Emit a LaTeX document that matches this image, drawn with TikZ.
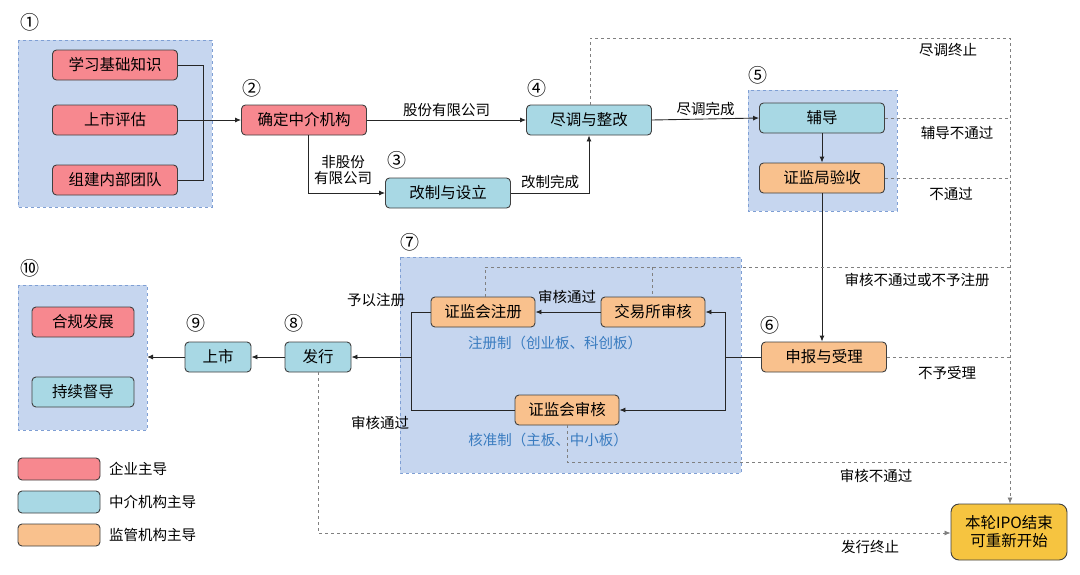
\documentclass[tikz,border=0pt]{standalone}
\usepackage{fontspec}
\setmainfont{Noto Sans CJK SC}
\usetikzlibrary{arrows.meta}
\definecolor{cred}{HTML}{F7888F}
\definecolor{cblue}{HTML}{A8D8E4}
\definecolor{corg}{HTML}{F9C18D}
\definecolor{cgrp}{HTML}{C6D6EF}
\definecolor{cgb}{HTML}{7F9FD4}
\definecolor{cyel}{HTML}{F6C440}
\definecolor{ctxt}{HTML}{3A7CC0}
\begin{document}
\begin{tikzpicture}[x=1pt,y=-1pt,font=\fontsize{15.5}{17}\selectfont,
 bx/.style={draw=black!75,line width=0.9pt,rounded corners=4pt,minimum height=30pt,inner sep=1pt},
 rbx/.style={bx,fill=cred,minimum width=125pt},
 bbx/.style={bx,fill=cblue,minimum width=125pt},
 obx/.style={bx,fill=corg,minimum width=125pt},
 grp/.style={draw=cgb,dashed,fill=cgrp,line width=0.6pt},
 ln/.style={draw=black!85,line width=0.9pt},
 ar/.style={ln,-{Latex[length=6pt,width=5pt]}},
 dl/.style={draw=gray,dashed,line width=0.8pt},
 lb/.style={inner sep=1pt,font=\fontsize{14.5}{16.5}\selectfont},
 num/.style={inner sep=0pt,font=\fontsize{19}{20}\selectfont}]
\useasboundingbox (0,0) rectangle (1080,574);
\fill[white] (0,0) rectangle (1080,574);
% groups
\path[grp] (18,40) rectangle (212,207);
\path[grp] (748,90) rectangle (897,211);
\path[grp] (400,257) rectangle (741,473);
\path[grp] (18,285) rectangle (147,430);
% circled numbers
\node[num] at (30,22) {①};
\node[num] at (252,88) {②};
\node[num] at (397,160) {③};
\node[num] at (537,88) {④};
\node[num] at (758,75) {⑤};
\node[num] at (770,325) {⑥};
\node[num] at (410,242) {⑦};
\node[num] at (294,323) {⑧};
\node[num] at (196,323) {⑨};
\node[num] at (30,268) {⑩};
% nodes
\node[rbx] (n1) at (115,65) {学习基础知识};
\node[rbx] (n2) at (115,120) {上市评估};
\node[rbx] (n3) at (115,180) {组建内部团队};
\node[rbx] (zj) at (304,120) {确定中介机构};
\node[bbx] (gz) at (448,193) {改制与设立};
\node[bbx] (jd) at (589,120) {尽调与整改};
\node[bbx] (fd) at (822,118) {辅导};
\node[obx] (ys) at (822,178) {证监局验收};
\node[obx] (sb) at (824,357) {申报与受理};
\node[obx,minimum width=104pt] (jy) at (653,312) {交易所审核};
\node[obx,minimum width=104pt] (zc) at (483,312) {证监会注册};
\node[obx,minimum width=104pt] (sh) at (567,410) {证监会审核};
\node[bbx,minimum width=66pt] (fx) at (318,357) {发行};
\node[bbx,minimum width=66pt] (ss) at (218,357) {上市};
\node[rbx,minimum width=102pt] (hg) at (83,322) {合规发展};
\node[bbx,minimum width=102pt] (cx) at (83,392) {持续督导};
\node[bx,fill=cyel,minimum width=116pt,minimum height=56pt,align=center,rounded corners=8pt,font=\fontsize{15.5}{18}\selectfont] (end) at (1009,532) {本轮IPO结束\\可重新开始};
% legend
\node[bx,fill=cred,minimum width=82pt,minimum height=22pt] (l1) at (59,469) {};
\node[bx,fill=cblue,minimum width=82pt,minimum height=22pt] (l2) at (59,502) {};
\node[bx,fill=corg,minimum width=82pt,minimum height=22pt] (l3) at (59,535) {};
\node[lb,anchor=west] at (108,469) {企业主导};
\node[lb,anchor=west] at (108,502) {中介机构主导};
\node[lb,anchor=west] at (108,535) {监管机构主导};
% connectors
\draw[ln] (n1.east) -| (203,180) -- (n3.east);
\draw[ar] (n2.east) -- (zj.west);
\draw[ar] (zj.east) -- node[lb,above=2pt]{股份有限公司} (jd.west);
\draw[ar] (zj.south -| 308,0) |- (gz.west);
\node[lb,align=center] at (343,170) {非股份\\有限公司};
\draw[ar] (gz.east) -| (jd.south);
\node[lb] at (550,182) {改制完成};
\draw[ar] (jd.east) -- node[lb,above=2pt]{尽调完成} (fd.west);
\draw[ar] (fd) -- (ys);
\draw[ar] (ys) -- (ys.south |- sb.north);
\coordinate (r) at (725,357);
\draw[ln] (sb.west) -- (r);
\draw[ar] (r) |- (jy.east);
\draw[ar] (r) |- (sh.east);
\draw[ar] (jy.west) -- (zc.east);
\node[lb] at (567,297) {审核通过};
\draw[ln] (zc.west) -| (411,410) -- (sh.west);
\draw[ar] (411,357) -- (fx.east);
\node[lb] at (376,300) {予以注册};
\node[lb] at (380,423) {审核通过};
\draw[ar] (fx.west) -- (ss.east);
\draw[ar] (ss.west) -- (147,357);
\node[lb,text=ctxt] at (555,343) {注册制（创业板、科创板）};
\node[lb,text=ctxt] at (548,440) {核准制（主板、中小板）};
% dashed
\draw[dl,-{Latex[length=6pt,width=5pt]}] (jd.north -| 590,0) |- (1010,38) -- (end.north -| 1010,0);
\draw[dl] (fd.east) -- (1010,118);
\draw[dl] (ys.east) -- (1010,178);
\draw[dl] (zc.north -| 485,0) |- (1010,267);
\draw[dl] (652,267) -- (jy.north -| 652,0);
\draw[dl] (sb.east) -- (1010,357);
\draw[dl] (sh.south) |- (1010,462);
\draw[dl,-{Latex[length=6pt,width=5pt]}] (fx.south) |- (end.west |- 0,533);
\node[lb] at (948,50) {尽调终止};
\node[lb] at (957,133) {辅导不通过};
\node[lb] at (951,194) {不通过};
\node[lb] at (917,280) {审核不通过或不予注册};
\node[lb] at (947,373) {不予受理};
\node[lb] at (876,476) {审核不通过};
\node[lb] at (870,547) {发行终止};
\end{tikzpicture}
\end{document}
